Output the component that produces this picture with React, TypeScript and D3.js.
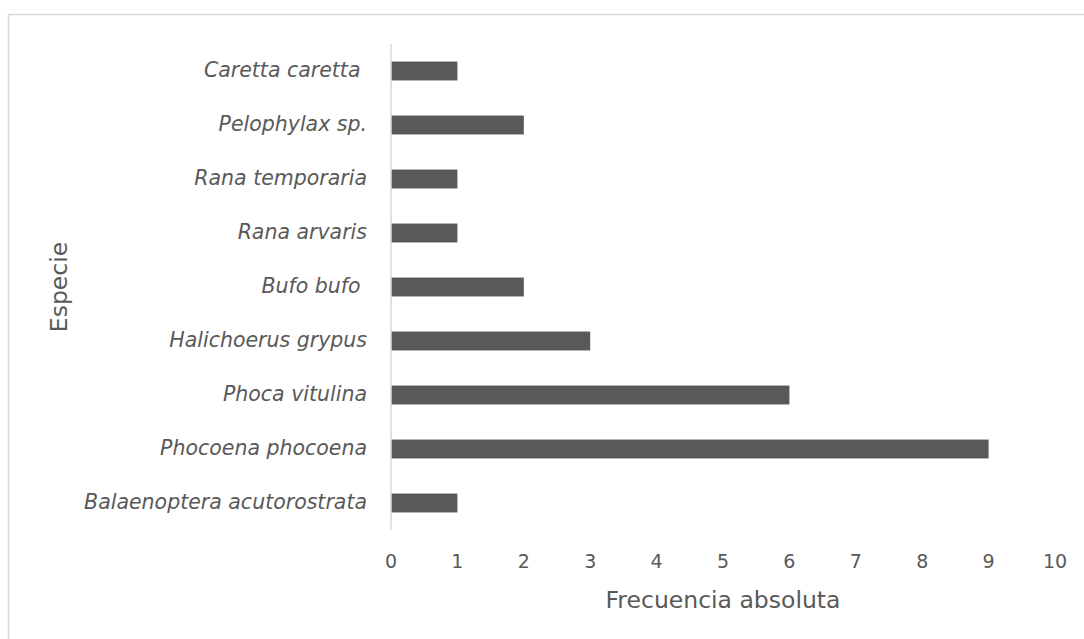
import React from "react";
import * as d3 from "d3";

const species = [
  "Caretta caretta ",
  "Pelophylax sp.",
  "Rana temporaria",
  "Rana arvaris",
  "Bufo bufo ",
  "Halichoerus grypus",
  "Phoca vitulina",
  "Phocoena phocoena",
  "Balaenoptera acutorostrata",
];
const counts = [1, 2, 1, 1, 2, 3, 6, 9, 1];
const xTicks = [0, 1, 2, 3, 4, 5, 6, 7, 8, 9, 10];

const W = 1084;
const H = 639;
const left = 391;
const right = 1055;
const top = 44;
const bottom = 530;
const textColor = "#595959";
const font = "'DejaVu Sans', sans-serif";

export default function App() {
  const x = d3.scaleLinear().domain([0, 10]).range([left, right]);
  const y = d3
    .scaleBand<string>()
    .domain(species)
    .range([top, bottom])
    .paddingInner(0.65)
    .paddingOuter(0.325);

  return (
    <svg
      width={W}
      height={H}
      style={{ position: "absolute", left: 0, top: 0, background: "#fff" }}
      fontFamily={font}
    >
      <rect x={8.5} y={14.5} width={W} height={H} fill="#fff" stroke="#d9d9d9" strokeWidth={1.5} />
      {species.map((s, i) => (
        <rect
          key={s}
          x={x(0)}
          y={y(s)}
          width={x(counts[i]) - x(0)}
          height={y.bandwidth()}
          fill="#595959"
        />
      ))}
      <line x1={x(0)} x2={x(0)} y1={top} y2={bottom} stroke="#d9d9d9" strokeWidth={1.5} />
      {species.map((s) => (
        <text
          key={s}
          x={367}
          y={(y(s) ?? 0) + y.bandwidth() / 2}
          dy="0.3em"
          textAnchor="end"
          fontStyle="italic"
          fontSize={20.5}
          fill={textColor}
          style={{ whiteSpace: "pre" }}
        >
          {s}
        </text>
      ))}
      {xTicks.map((t) => (
        <text
          key={t}
          x={x(t)}
          y={561}
          dy="0.35em"
          textAnchor="middle"
          fontSize={19}
          fill={textColor}
        >
          {t}
        </text>
      ))}
      <text
        x={(left + right) / 2}
        y={600}
        dy="0.35em"
        textAnchor="middle"
        fontSize={23.5}
        fill={textColor}
      >
        Frecuencia absoluta
      </text>
      <text
        transform={`translate(58.5,${(top + bottom) / 2}) rotate(-90)`}
        dy="0.35em"
        textAnchor="middle"
        fontSize={23.5}
        fill={textColor}
      >
        Especie
      </text>
    </svg>
  );
}
